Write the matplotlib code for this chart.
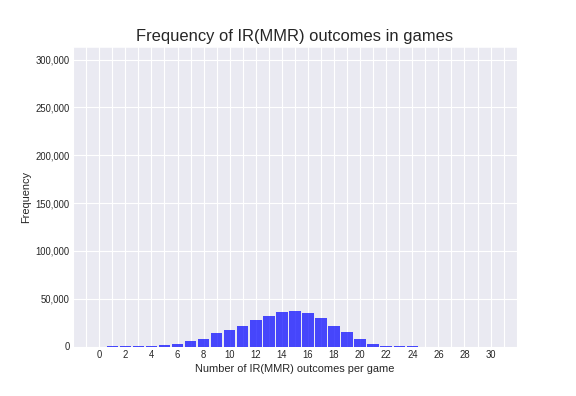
import numpy as np
import matplotlib
matplotlib.use("Agg")
import matplotlib.pyplot as plt
import matplotlib.ticker as mtick
import seaborn as sns

# outcomes per game and how many games had that count
outcomes = list(range(0, 31))
counts = [0, 1000, 1000, 1000, 1000, 1800, 2800, 5300, 8100, 13700, 17600,
          21800, 28200, 32400, 35600, 36600, 34900, 30300, 21800, 14800, 8100,
          2800, 1000, 1000, 1000, 0, 0, 0, 0, 0, 0]
x_ticks = list(range(0, 31, 2))

sns.set_style("darkgrid")
plt.rcParams["font.family"] = ["Liberation Sans", "DejaVu Sans"]

fig, ax = plt.subplots(figsize=(8, 5.5), dpi=72)
fig.subplots_adjust(left=0.127, right=0.897, top=0.881, bottom=0.125)

ax.bar(outcomes, counts, width=0.88, color="blue", alpha=0.7, linewidth=0)

ax.set_xlim(-2, 32)
ax.set_ylim(0, 313000)
ax.set_xticks(x_ticks)
ax.xaxis.set_minor_locator(mtick.MultipleLocator(1))
ax.grid(True, which="both", axis="x", color="white", linewidth=1.1)
ax.grid(True, which="major", axis="y", color="white", linewidth=1.1)
ax.yaxis.set_major_locator(mtick.MultipleLocator(50000))
ax.yaxis.set_major_formatter(mtick.StrMethodFormatter("{x:,.0f}"))
ax.tick_params(axis="both", which="both", length=0, labelsize=9.5, colors="#262626")

ax.set_title("Frequency of IR(MMR) outcomes in games", fontsize=16.5, color="#262626")
ax.set_xlabel("Number of IR(MMR) outcomes per game", fontsize=11, color="#262626")
ax.set_ylabel("Frequency", fontsize=11, color="#262626")

fig.savefig("out.png", dpi=72)
